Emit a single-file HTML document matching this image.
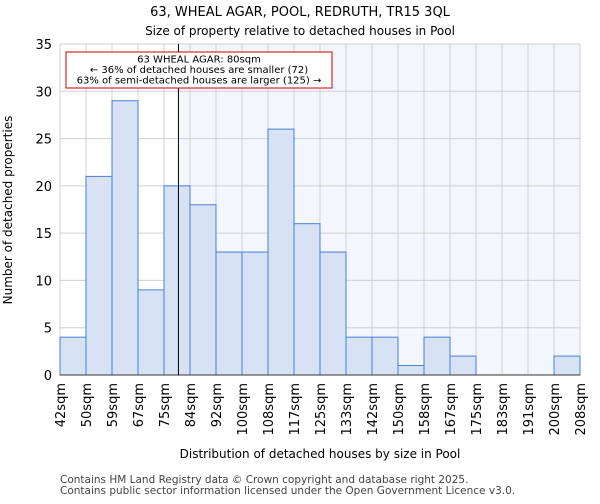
<!DOCTYPE html>
<html><head><meta charset="utf-8"><style>
body{margin:0;background:#fff;font-family:"DejaVu Sans","Liberation Sans",sans-serif;}
</style></head><body>
<svg id="chart" width="600" height="500" xmlns="http://www.w3.org/2000/svg" font-family="DejaVu Sans, Liberation Sans, sans-serif">
<text x="300" y="16" font-size="13" text-anchor="middle">63, WHEAL AGAR, POOL, REDRUTH, TR15 3QL</text>
<text x="300" y="35" font-size="12" text-anchor="middle">Size of property relative to detached houses in Pool</text>
<g id="plot"></g>
<text x="320" y="458" font-size="12" text-anchor="middle">Distribution of detached houses by size in Pool</text>
<text transform="translate(12,210) rotate(-90)" font-size="12" text-anchor="middle">Number of detached properties</text>
<text x="60" y="483" font-size="10.5" fill="#444">Contains HM Land Registry data © Crown copyright and database right 2025.</text>
<text x="60" y="494" font-size="10.5" fill="#444">Contains public sector information licensed under the Open Government Licence v3.0.</text>
</svg>
<script>
const binLabels=["42sqm","50sqm","59sqm","67sqm","75sqm","84sqm","92sqm","100sqm","108sqm","117sqm","125sqm","133sqm","142sqm","150sqm","158sqm","167sqm","175sqm","183sqm","191sqm","200sqm","208sqm"];
const counts=[4,21,29,9,20,18,13,13,26,16,13,4,4,1,4,2,0,0,0,2];
const yTicks=[0,5,10,15,20,25,30,35];
const markerBin=4+5/9;
const ns="http://www.w3.org/2000/svg";
const g=document.getElementById('plot');
const X0=60,X1=580,Y0=375,Y1=44,YMAX=35;
const bw=(X1-X0)/counts.length;
const xs=i=>X0+i*bw;
const ys=v=>Y0-(Y0-Y1)*v/YMAX;
function el(t,a,p){const e=document.createElementNS(ns,t);for(const k in a)e.setAttribute(k,a[k]);(p||g).appendChild(e);return e;}
const mx=xs(markerBin);
let bg=el('rect',{x:mx,y:Y1,width:X1-mx,height:Y0-Y1,fill:'#f3f6fc'});


yTicks.forEach(v=>{
 let l=el('line',{x1:X0,x2:X1,y1:ys(v),y2:ys(v),stroke:'#d0d0d0'});
 
 
 let t=el('text',{x:X0-8,y:ys(v)+5,'font-size':13,'text-anchor':'end'});t.textContent=v;
 
 
});
binLabels.forEach((s,i)=>{
 let l=el('line',{x1:xs(i),x2:xs(i),y1:Y1,y2:Y0,stroke:'#d0d0d0'});
 
 
 let t=el('text',{transform:`translate(${xs(i)+5},${Y0+8}) rotate(-90)`,'font-size':13,'text-anchor':'end'});t.textContent=s;
 
 
});
counts.forEach((v,i)=>{
 if(v<=0)return;
 let r=el('rect',{x:xs(i),y:ys(v),width:bw,height:Y0-ys(v),fill:'#d7e2f5',stroke:'#4a7fd4','stroke-width':1});
 
 
});
let ax=el('line',{x1:X0,x2:X1,y1:Y0,y2:Y0,stroke:'#333'});


let ml=el('line',{x1:mx,x2:mx,y1:Y1,y2:Y0,stroke:'#000','stroke-width':1});


let box=el('rect',{x:66,y:52,width:266,height:36,fill:'#fff',stroke:'#c00','stroke-width':1});


["63 WHEAL AGAR: 80sqm","← 36% of detached houses are smaller (72)","63% of semi-detached houses are larger (125) →"].forEach((s,i)=>{
 let t=el('text',{x:199,y:62.5+i*10.5,'font-size':10,'text-anchor':'middle'});t.textContent=s;
 
 
});
</script>
</body></html>
